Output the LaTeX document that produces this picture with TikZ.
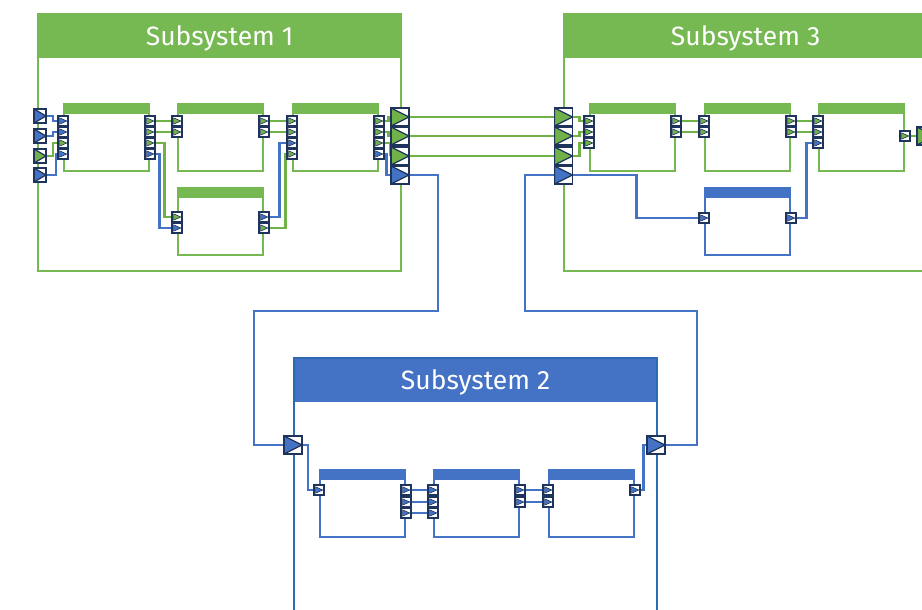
\documentclass[tikz,border=0pt]{standalone}
\usepackage{fontspec}
\setsansfont{Fira Sans}
\usepackage{tikz}
\usetikzlibrary{positioning, calc, backgrounds}
\definecolor{sysgreen}{RGB}{118,184,82}
\definecolor{wiregreen}{RGB}{112,178,72}
\definecolor{sysblue}{RGB}{68,114,196}
\definecolor{wireblue}{RGB}{68,114,196}
\definecolor{edgeblue}{RGB}{46,106,176}
\definecolor{portnavy}{RGB}{31,52,92}
\tikzset{
    sysbox/.style={
        draw=#1, line width=2.2pt, inner sep=0pt, minimum width=363pt, anchor=north west,
        path picture={\fill[#1] (path picture bounding box.north west) rectangle ([yshift=-44pt]path picture bounding box.north east);}
    },
    systitle/.style={
        text=white, font=\sffamily\fontsize{26.5}{30}\selectfont, inner sep=0pt
    },
    block/.style={
        draw=#1, line width=1.9pt, fill=white, inner sep=0pt, minimum width=85pt, minimum height=67pt, anchor=north west,
        path picture={\fill[#1] (path picture bounding box.north west) rectangle ([yshift=-10pt]path picture bounding box.north east);}
    },
    sport/.style={
        draw=portnavy, line width=2pt, fill=white, minimum size=9.5pt, inner sep=0pt,
        path picture={\filldraw[fill=#1, draw=portnavy, line width=0.6pt] ([shift={(1.4pt,-1.6pt)}]path picture bounding box.north west) -- ([xshift=-1pt]path picture bounding box.east) -- ([shift={(1.4pt,1.6pt)}]path picture bounding box.south west) -- cycle;}
    },
    bport/.style={
        draw=portnavy, line width=1.8pt, fill=white, minimum width=18pt, minimum height=18pt, inner sep=0pt,
        path picture={\filldraw[fill=#1, draw=portnavy, line width=1.2pt] (path picture bounding box.north west) -- (path picture bounding box.east) -- (path picture bounding box.south west) -- cycle;}
    },
    gwire/.style={draw=wiregreen, line width=2.4pt},
    bwire/.style={draw=wireblue, line width=2.4pt}
}

\begin{document}
\begin{tikzpicture}[x=1pt, y=-1pt]
    \useasboundingbox (0,0) rectangle (922,610);
    \clip (0,0) rectangle (922,610);

    % --- subsystems ---
    \node[sysbox=sysgreen, minimum height=257pt] (sys1) at (37,13) {};
    \node[sysbox=sysgreen, minimum height=257pt] (sys3) at (563,13) {};
    \node[sysbox=sysblue, draw=edgeblue, minimum height=300pt] (sys2) at (293,357) {};
    \node[systitle] at ([yshift=-25pt]sys1.north) {Subsystem 1};
    \node[systitle] at ([yshift=-25pt]sys3.north) {Subsystem 3};
    \node[systitle] at ([yshift=-25pt]sys2.north) {Subsystem 2};

    % --- blocks ---
    \node[block=sysgreen] (s1a) at (63,103) {};
    \node[block=sysgreen] (s1b) at (177,103) {};
    \node[block=sysgreen] (s1c) at (292,103) {};
    \node[block=sysgreen] (s1d) at (177,187) {};
    \node[block=sysgreen] (s3a) at (589,103) {};
    \node[block=sysgreen] (s3b) at (704,103) {};
    \node[block=sysgreen] (s3c) at (818,103) {};
    \node[block=sysblue] (s3d) at (704,187) {};
    \node[block=sysblue] (s2a) at (319,469) {};
    \node[block=sysblue] (s2b) at (433,469) {};
    \node[block=sysblue] (s2c) at (548,469) {};

    % --- subsystem ports ---
    \foreach \k/\y/\c in {1/116/wireblue, 2/136/wireblue, 3/156/wiregreen, 4/175/wireblue}
        \node[bport=\c, minimum width=12pt, minimum height=14pt] (s1-i\k) at (40,\y) {};
    \foreach \k/\y/\c in {1/117/wiregreen, 2/136/wiregreen, 3/156/wiregreen, 4/175/wireblue} {
        \node[bport=\c] (s1-o\k) at (400,\y) {};
        \node[bport=\c] (s3-i\k) at (563.5,\y) {};
    }
    \node[bport=wiregreen] (s3-o1) at (926,136) {};
    \node[bport=wireblue] (s2-i1) at (293,445) {};
    \node[bport=wireblue] (s2-o1) at (656,445) {};

    % --- block ports ---
    \foreach \k/\dy/\c in {1/18/wireblue, 2/29/wireblue, 3/40/wiregreen, 4/51/wireblue}
        \node[sport=\c] (s1a-i\k) at ([yshift=-\dy]s1a.north west) {};
    \foreach \k/\dy/\c in {1/18/wiregreen, 2/29/wiregreen, 3/40/wiregreen, 4/51/wireblue}
        \node[sport=\c] (s1a-o\k) at ([yshift=-\dy]s1a.north east) {};
    \foreach \k/\dy in {1/18, 2/29} {
        \node[sport=wiregreen] (s1b-i\k) at ([yshift=-\dy]s1b.north west) {};
        \node[sport=wiregreen] (s1b-o\k) at ([yshift=-\dy]s1b.north east) {};
    }
    \foreach \k/\dy/\c in {1/18/wiregreen, 2/29/wiregreen, 3/40/wireblue, 4/51/wiregreen}
        \node[sport=\c] (s1c-i\k) at ([yshift=-\dy]s1c.north west) {};
    \foreach \k/\dy/\c in {1/18/wiregreen, 2/29/wiregreen, 3/40/wiregreen, 4/51/wireblue}
        \node[sport=\c] (s1c-o\k) at ([yshift=-\dy]s1c.north east) {};
    \node[sport=wiregreen] (s1d-i1) at ([yshift=-30]s1d.north west) {};
    \node[sport=wireblue] (s1d-i2) at ([yshift=-41]s1d.north west) {};
    \node[sport=wireblue] (s1d-o1) at ([yshift=-30]s1d.north east) {};
    \node[sport=wiregreen] (s1d-o2) at ([yshift=-41]s1d.north east) {};

    \foreach \k/\dy in {1/18, 2/29, 3/40}
        \node[sport=wiregreen] (s3a-i\k) at ([yshift=-\dy]s3a.north west) {};
    \foreach \k/\dy in {1/18, 2/29} {
        \node[sport=wiregreen] (s3a-o\k) at ([yshift=-\dy]s3a.north east) {};
        \node[sport=wiregreen] (s3b-i\k) at ([yshift=-\dy]s3b.north west) {};
        \node[sport=wiregreen] (s3b-o\k) at ([yshift=-\dy]s3b.north east) {};
        \node[sport=wiregreen] (s3c-i\k) at ([yshift=-\dy]s3c.north west) {};
    }
    \node[sport=wireblue] (s3c-i3) at ([yshift=-40]s3c.north west) {};
    \node[sport=wiregreen] (s3c-o1) at ([yshift=-33]s3c.north east) {};
    \node[sport=wireblue] (s3d-i1) at ([yshift=-31]s3d.north west) {};
    \node[sport=wireblue] (s3d-o1) at ([yshift=-31]s3d.north east) {};

    \node[sport=wireblue] (s2a-i1) at ([yshift=-21]s2a.north west) {};
    \foreach \k/\dy in {1/21, 2/33, 3/44} {
        \node[sport=wireblue] (s2a-o\k) at ([yshift=-\dy]s2a.north east) {};
        \node[sport=wireblue] (s2b-i\k) at ([yshift=-\dy]s2b.north west) {};
    }
    \foreach \k/\dy in {1/21, 2/33} {
        \node[sport=wireblue] (s2b-o\k) at ([yshift=-\dy]s2b.north east) {};
        \node[sport=wireblue] (s2c-i\k) at ([yshift=-\dy]s2c.north west) {};
    }
    \node[sport=wireblue] (s2c-o1) at ([yshift=-21]s2c.north east) {};

    % --- wires ---
    \begin{scope}[on background layer]
        % Subsystem 1
        \draw[bwire] (s1-i1.east) -- ++(6,0) |- (s1a-i1.west);
        \draw[bwire] (s1-i2.east) -- ++(6,0) |- (s1a-i2.west);
        \draw[gwire] (s1-i3.east) -- ++(6,0) |- (s1a-i3.west);
        \draw[bwire] (s1-i4.east) -- ++(9,0) |- (s1a-i4.west);
        \draw[gwire] (s1a-o1) -- (s1b-i1);
        \draw[gwire] (s1a-o2) -- (s1b-i2);
        \draw[gwire] (s1a-o3.east) -- ++(9,0) |- (s1d-i1.west);
        \draw[bwire] (s1a-o4.east) -- ++(4,0) |- (s1d-i2.west);
        \draw[gwire] (s1b-o1) -- (s1c-i1);
        \draw[gwire] (s1b-o2) -- (s1c-i2);
        \draw[bwire] (s1d-o1.east) -- ++(10,0) |- (s1c-i3.west);
        \draw[gwire] (s1d-o2.east) -- ++(16,0) |- (s1c-i4.west);
        \draw[gwire] (s1c-o1.east) -- ++(4,0) |- (s1-o1.west);
        \draw[gwire] (s1c-o2.east) -- ++(4,0) |- (s1-o2.west);
        \draw[gwire] (s1c-o3.east) -- ++(6,0) |- (s1-o3.west);
        \draw[bwire] (s1c-o4.east) -- ++(2,0) |- (s1-o4.west);
        % between subsystems
        \foreach \k in {1,2,3}
            \draw[gwire] (s1-o\k.east) -- (s3-i\k.west);
        \draw[bwire] (s1-o4.east) -| (438,311) -| ([xshift=-29]s2-i1.west) -- (s2-i1.west);
        \draw[bwire] (s3-i4.west) -| (525,311) -| ([xshift=31]s2-o1.east) -- (s2-o1.east);
        % Subsystem 3
        \foreach \k in {1,2,3}
            \draw[gwire] (s3-i\k.east) -- ++(6,0) |- (s3a-i\k.west);
        \draw[bwire] (s3-i4.east) -- ++(63,0) |- (s3d-i1.west);
        \foreach \k in {1,2} {
            \draw[gwire] (s3a-o\k) -- (s3b-i\k);
            \draw[gwire] (s3b-o\k) -- (s3c-i\k);
        }
        \draw[bwire] (s3d-o1.east) -- ++(10,0) |- (s3c-i3.west);
        \draw[gwire] (s3c-o1) -- (s3-o1);
        % Subsystem 2
        \draw[bwire] (s2-i1.east) -- ++(5,0) |- (s2a-i1.west);
        \foreach \k in {1,2,3}
            \draw[bwire] (s2a-o\k) -- (s2b-i\k);
        \foreach \k in {1,2}
            \draw[bwire] (s2b-o\k) -- (s2c-i\k);
        \draw[bwire] (s2c-o1.east) -- ++(3,0) |- (s2-o1.west);
    \end{scope}
\end{tikzpicture}
\end{document}
